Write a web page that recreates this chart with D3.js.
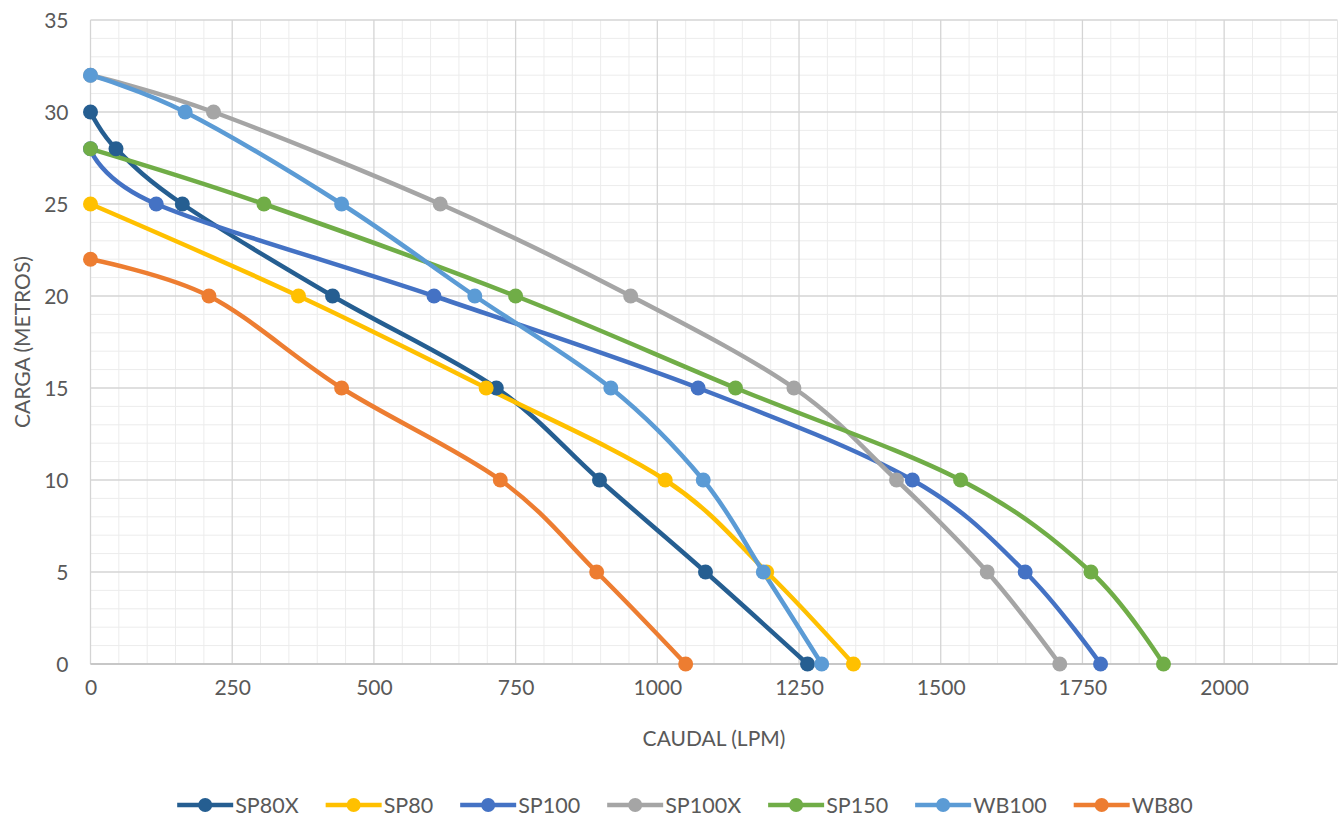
<!DOCTYPE html>
<html>
<head>
<meta charset="utf-8">
<script src="https://cdn.jsdelivr.net/npm/d3@7"></script>
<style>
  html, body { margin: 0; padding: 0; background: #ffffff; }
  svg { display: block; }
  text { font-family: Lato, "Open Sans", sans-serif; fill: #595959; }
</style>
</head>
<body>
<svg id="chart" width="1338" height="817"></svg>
<script>
// ---- data ----
const seriesNames = ["SP80X", "SP80", "SP100", "SP100X", "SP150", "WB100", "WB80"];
const seriesColors = ["#255e91", "#ffc000", "#4472c4", "#a5a5a5", "#70ad47", "#5b9bd5", "#ed7d31"];

const sp80xFlow  = [0, 45, 162, 427, 716, 898, 1085, 1265];
const sp80xHead  = [30, 28, 25, 20, 15, 10, 5, 0];
const sp80Flow   = [0, 367, 698, 1014, 1193, 1346];
const sp80Head   = [25, 20, 15, 10, 5, 0];
const sp100Flow  = [0, 116, 606, 1072, 1450, 1649, 1782];
const sp100Head  = [28, 25, 20, 15, 10, 5, 0];
const sp100xFlow = [0, 217, 617, 953, 1241, 1422, 1582, 1710];
const sp100xHead = [32, 30, 25, 20, 15, 10, 5, 0];
const sp150Flow  = [0, 306, 750, 1138, 1535, 1765, 1893];
const sp150Head  = [28, 25, 20, 15, 10, 5, 0];
const wb100Flow  = [0, 167, 443, 678, 918, 1081, 1187, 1290];
const wb100Head  = [32, 30, 25, 20, 15, 10, 5, 0];
const wb80Flow   = [0, 209, 443, 723, 893, 1050];
const wb80Head   = [22, 20, 15, 10, 5, 0];

const xTicks = [0, 250, 500, 750, 1000, 1250, 1500, 1750, 2000];
const yTicks = [0, 5, 10, 15, 20, 25, 30, 35];
const xTitle = "CAUDAL (LPM)";
const yTitle = "CARGA (METROS)";

const flows = [sp80xFlow, sp80Flow, sp100Flow, sp100xFlow, sp150Flow, wb100Flow, wb80Flow];
const heads = [sp80xHead, sp80Head, sp100Head, sp100xHead, sp150Head, wb100Head, wb80Head];
const series = seriesNames.map((name, i) => ({
  name, color: seriesColors[i],
  pts: flows[i].map((f, j) => ({ x: f, y: heads[i][j] }))
}));

// ---- layout ----
const svg = d3.select("#chart");
const L = 90.5, R = 1337.5, T = 20, B = 664;
const x = d3.scaleLinear().domain([0, 2200]).range([L, R]);
const y = d3.scaleLinear().domain([0, 35]).range([B, T]);

// minor grid
const g = svg.append("g");
const minorX = d3.range(0, 2201, 50).filter(v => v % 250 !== 0);
const minorY = d3.range(0, 36, 1).filter(v => v % 5 !== 0);
g.selectAll(".mx").data(minorX).enter().append("line")
  .attr("x1", d => x(d)).attr("x2", d => x(d)).attr("y1", T).attr("y2", B)
  .attr("stroke", "#ececec").attr("stroke-width", 1);
g.selectAll(".my").data(minorY).enter().append("line")
  .attr("x1", L).attr("x2", R).attr("y1", d => y(d)).attr("y2", d => y(d))
  .attr("stroke", "#ececec").attr("stroke-width", 1);
// major grid
const majorX = d3.range(0, 2201, 250);
g.selectAll(".Mx").data(majorX).enter().append("line")
  .attr("x1", d => x(d)).attr("x2", d => x(d)).attr("y1", T).attr("y2", B)
  .attr("stroke", "#d4d4d4").attr("stroke-width", 1.3);
g.selectAll(".My").data(yTicks).enter().append("line")
  .attr("x1", L).attr("x2", R).attr("y1", d => y(d)).attr("y2", d => y(d))
  .attr("stroke", "#d4d4d4").attr("stroke-width", 1.3);
// right edge
g.append("line").attr("x1", R).attr("x2", R).attr("y1", T).attr("y2", B)
  .attr("stroke", "#e4e4e4").attr("stroke-width", 1);
// bottom axis line
g.append("line").attr("x1", L).attr("x2", R).attr("y1", B).attr("y2", B)
  .attr("stroke", "#bfbfbf").attr("stroke-width", 1.5);

// axes (labels only)
const xAxis = d3.axisBottom(x).tickValues(xTicks).tickSize(0).tickPadding(0).tickFormat(d3.format("d"));
const xa = svg.append("g").attr("transform", `translate(0,${B + 24})`).call(xAxis);
xa.select(".domain").remove();
xa.selectAll("text").attr("font-size", 21).attr("font-family", "Lato").attr("fill", "#595959").attr("dy", "0.32em");

const yAxis = d3.axisLeft(y).tickValues(yTicks).tickSize(0).tickPadding(0);
const ya = svg.append("g").attr("transform", `translate(${L - 22},0)`).call(yAxis);
ya.select(".domain").remove();
ya.selectAll("text").attr("font-size", 21).attr("font-family", "Lato").attr("fill", "#595959").attr("dy", "0.36em");

// axis titles
svg.append("text").attr("x", (L + R) / 2).attr("y", 737).attr("text-anchor", "middle")
  .attr("dominant-baseline", "central").attr("font-size", 21).text(xTitle);
svg.append("text").attr("transform", `translate(21,${(T + B) / 2}) rotate(-90)`)
  .attr("text-anchor", "middle").attr("dominant-baseline", "central").attr("font-size", 21).text(yTitle);

// lines
const line = d3.line().x(d => x(d.x)).y(d => y(d.y)).curve(d3.curveCardinal.tension(0));
const sg = svg.append("g");
series.forEach(s => {
  sg.append("path").datum(s.pts).attr("d", line)
    .attr("fill", "none").attr("stroke", s.color).attr("stroke-width", 4.5)
    .attr("stroke-linejoin", "round").attr("stroke-linecap", "round");
});
series.forEach(s => {
  sg.selectAll(null).data(s.pts).enter().append("circle")
    .attr("cx", d => x(d.x)).attr("cy", d => y(d.y)).attr("r", 7.5)
    .attr("fill", s.color);
});

// legend
const lg = svg.append("g");
const ly = 805;
const items = [];
series.forEach(s => {
  const it = lg.append("g");
  it.append("line").attr("x1", 0).attr("x2", 56).attr("y1", 0).attr("y2", 0)
    .attr("stroke", s.color).attr("stroke-width", 4.5);
  it.append("circle").attr("cx", 28).attr("cy", 0).attr("r", 7).attr("fill", s.color);
  const t = it.append("text").attr("x", 58).attr("y", 0).attr("dominant-baseline", "central")
    .attr("font-size", 21.5).text(s.name);
  const w = 58 + t.node().getComputedTextLength();
  items.push({ it, w });
});
const gap = 27;
const total = d3.sum(items, d => d.w) + gap * (items.length - 1);
let start = 685 - total / 2;
items.forEach(d => {
  d.it.attr("transform", `translate(${start},${ly})`);
  start += d.w + gap;
});
</script>
</body>
</html>
